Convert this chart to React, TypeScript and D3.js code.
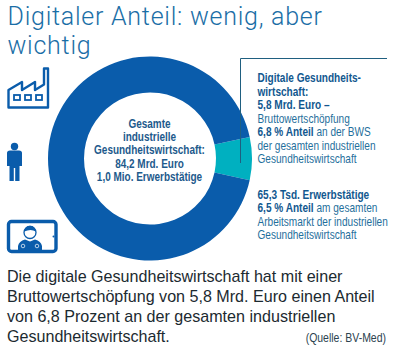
import React from "react";
import * as d3 from "d3";

const sliceNames = ["Digitale Gesundheitswirtschaft", "Übrige industrielle Gesundheitswirtschaft"];
const sliceValues = [6.8, 93.2];
const sliceColors = ["#00b0c0", "#0a5cab"];
const titleLines = ["Digitaler Anteil: wenig, aber", "wichtig"];
const centerLines = ["Gesamte", "industrielle", "Gesundheitswirtschaft:", "84,2 Mrd. Euro", "1,0 Mio. Erwerbstätige"];
const sideLines: [string, boolean][][] = [
  [["Digitale Gesundheits-", true]],
  [["wirtschaft:", true]],
  [["5,8 Mrd. Euro –", true]],
  [["Bruttowertschöpfung", false]],
  [["6,8 % Anteil", true], [" an der BWS", false]],
  [["der gesamten industriellen", false]],
  [["Gesundheitswirtschaft", false]],
];
const sideLines2: [string, boolean][][] = [
  [["65,3 Tsd. Erwerbstätige", true]],
  [["6,5 % Anteil", true], [" am gesamten", false]],
  [["Arbeitsmarkt der industriellen", false]],
  [["Gesundheitswirtschaft", false]],
];
const bodyLines = [
  "Die digitale Gesundheitswirtschaft hat mit einer",
  "Bruttowertschöpfung von 5,8 Mrd. Euro einen Anteil",
  "von 6,8 Prozent an der gesamten industriellen",
  "Gesundheitswirtschaft.",
];
const sourceText = "(Quelle: BV-Med)";

const W = 418, H = 357;
const cx = 150, cy = 158.5, rO = 102, rI = 66;
const sliceSpan = (sliceValues[0] / d3.sum(sliceValues)) * 2 * Math.PI;
const pie = d3.pie<number>().sort(null).value(d => d)
  .startAngle(Math.PI / 2 - sliceSpan / 2)
  .endAngle(Math.PI / 2 - sliceSpan / 2 + 2 * Math.PI);
const arc = d3.arc<d3.PieArcDatum<number>>().innerRadius(rI).outerRadius(rO);

const font = "'Liberation Sans', Arial, sans-serif";
const NAVY = "#12588f";
const TEAL = "#1f6f9c";
const BLUE = "#0a5cab";

function Side({ lines, x, y, step }: { lines: [string, boolean][][]; x: number; y: number; step: number }) {
  return (
    <g>
      {lines.map((l, i) => (
        <text key={i} transform={`translate(${x},${y + i * step}) scale(0.8,1)`} fontFamily={font} fontSize={12.6} fill={TEAL}>
          {l.map((s, j) => (
            <tspan key={j} fontWeight={s[1] ? 700 : 400} fill={s[1] ? NAVY : TEAL}>{s[0]}</tspan>
          ))}
        </text>
      ))}
    </g>
  );
}

export default function App() {
  return (
    <svg width={W} height={H} viewBox={`0 0 ${W} ${H}`} style={{ position: "fixed", left: 0, top: 0, background: "#fff" }}>
      {titleLines.map((t, i) => (
        <text key={i} x={7.5} y={24.5 + i * 29} fontFamily="Roboto, sans-serif" fontWeight={300} fontSize={25}
          letterSpacing={0.75} fill="#1a6ea6">{t}</text>
      ))}

      <g transform={`translate(${cx},${cy})`}>
        {pie(sliceValues).map((d, i) => (
          <path key={sliceNames[i]} d={arc(d) ?? ""} fill={sliceColors[i]} />
        ))}
      </g>

      {centerLines.map((t, i) => (
        <text key={i} transform={`translate(149.5,${128 + i * 13.2}) scale(0.78,1)`} textAnchor="middle" fontFamily={font} fontWeight={700}
          fontSize={12.8} fill="#1d5a8c">{t}</text>
      ))}

      <path d="M240.5 163V58.5H387" fill="none" stroke="#1f5f80" strokeWidth={1} />
      <Side lines={sideLines} x={257.5} y={82} step={13.5} />
      <Side lines={sideLines2} x={257.5} y={199} step={13.4} />

      {/* factory */}
      <path d="M8.5 107.5V90L22 82V90L35 82V90L44 84.5V68.5H48V107.5Z" fill="none" stroke={BLUE} strokeWidth={2.4} strokeLinejoin="round" />
      <rect x={14} y={95} width={6} height={5} fill="none" stroke={BLUE} strokeWidth={1.8} />
      <rect x={25} y={95} width={6} height={5} fill="none" stroke={BLUE} strokeWidth={1.8} />
      <rect x={36} y={95} width={6} height={5} fill="none" stroke={BLUE} strokeWidth={1.8} />

      {/* person */}
      <circle cx={14.5} cy={146.5} r={3.7} fill={BLUE} />
      <path d="M7 153Q7 150.5 10 150.5H19Q22 150.5 22 153V166H19.5V181H15.2V168H13.8V181H9.5V166H7Z" fill={BLUE} />

      {/* tablet with doctor */}
      <rect x={8.5} y={221.5} width={47.5} height={30} rx={3} fill="none" stroke={BLUE} strokeWidth={3.4} />
      <circle cx={53.5} cy={236.5} r={1} fill={BLUE} />
      <path d="M18 250.5V246Q19 241 25 239.5L30 241.5L35 239.5Q41 241 42 246V250.5Z" fill={BLUE} />
      <circle cx={30} cy={232.5} r={6} fill="#fff" stroke={BLUE} strokeWidth={1.3} />
      <path d="M24.2 231.5Q25 225.8 30 225.8Q35 225.8 35.8 231.5Q31 228.5 24.2 231.5Z" fill={BLUE} />
      <circle cx={23} cy={246} r={1.8} fill="none" stroke="#fff" strokeWidth={0.7} />
      <circle cx={37} cy={246} r={1.8} fill="none" stroke="#fff" strokeWidth={0.7} />

      {bodyLines.map((t, i) => (
        <text key={i} x={7} y={282 + i * 20} fontFamily={font} fontSize={16.1} fill="#1c2a30">{t}</text>
      ))}
      <text transform="translate(386,342) scale(0.86,1)" textAnchor="end" fontFamily={font} fontSize={12.2} fill="#2c4350">{sourceText}</text>
    </svg>
  );
}
